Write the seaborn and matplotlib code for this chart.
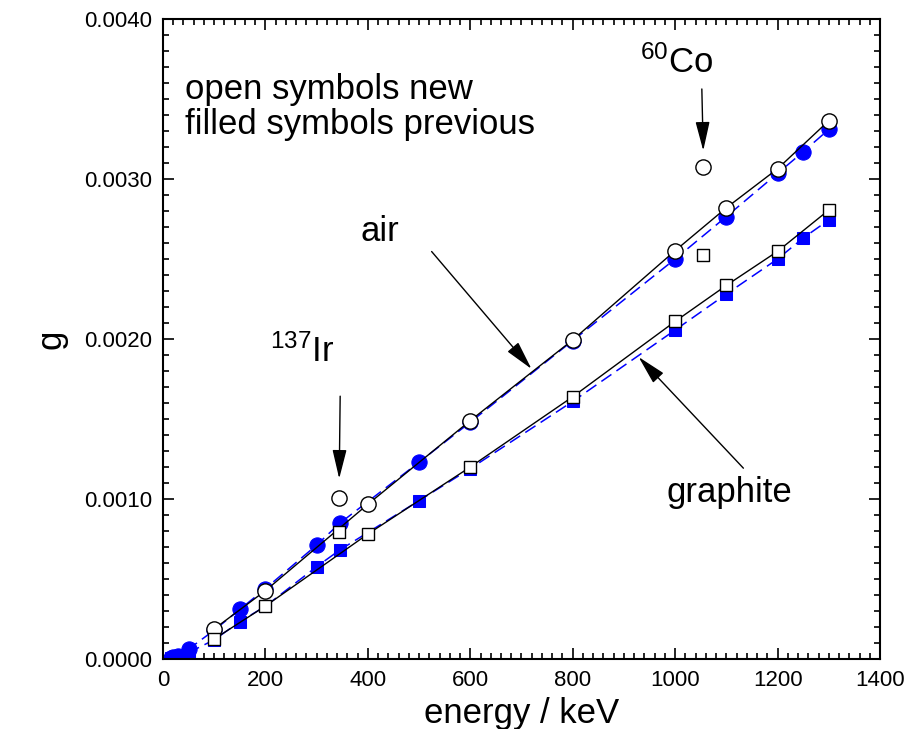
import matplotlib
matplotlib.use("Agg")
import matplotlib.pyplot as plt
from matplotlib.ticker import MultipleLocator
import seaborn as sns
import pandas as pd

# Previous evaluation (filled symbols, dashed blue)
prev_energy = [15, 20, 30, 50, 100, 150, 200, 300, 345, 500, 600, 800, 1000, 1100, 1200, 1250, 1300]
prev_air = [0.000008, 0.000012, 0.00002, 0.000062, 0.00018, 0.00031, 0.00044, 0.000712, 0.000848,
            0.00123, 0.00148, 0.00199, 0.0025, 0.002765, 0.003035, 0.00317, 0.00331]
prev_graphite = [0.000005, 0.000008, 0.000012, 0.00004, 0.00012, 0.000233, 0.00033, 0.000577, 0.000681,
                 0.00099, 0.00119, 0.00161, 0.002056, 0.002281, 0.0025, 0.002631, 0.002744]

# New evaluation (open symbols, solid black)
new_energy = [100, 200, 400, 600, 800, 1000, 1100, 1200, 1300]
new_air = [0.000188, 0.000427, 0.000967, 0.00149, 0.001994, 0.002552, 0.00282, 0.003064, 0.003364]
new_graphite = [0.000125, 0.000331, 0.000781, 0.0012, 0.001639, 0.00211, 0.002335, 0.002548, 0.002806]

# Source spectra points
src_energy = [344, 1055]
src_air = [0.001004, 0.003073]
src_graphite = [0.000796, 0.002523]

sns.set_style("ticks")
plt.rcParams["font.family"] = ["Liberation Sans", "DejaVu Sans"]
plt.rcParams["mathtext.fontset"] = "custom"
plt.rcParams["mathtext.rm"] = "Liberation Sans"
for key in ["text.color", "axes.labelcolor", "xtick.color", "ytick.color", "axes.edgecolor"]:
    plt.rcParams[key] = "black"

fig = plt.figure(figsize=(9.12, 7.29), dpi=100)
ax = fig.add_axes([163 / 912, 70 / 729, 717 / 912, 640 / 729])

prev = pd.DataFrame({"energy": prev_energy, "air": prev_air, "graphite": prev_graphite})
new = pd.DataFrame({"energy": new_energy, "air": new_air, "graphite": new_graphite})
src = pd.DataFrame({"energy": src_energy, "air": src_air, "graphite": src_graphite})

blue = "#0000ff"
for col, mk, ms in [("air", "o", 11), ("graphite", "s", 9)]:
    sns.lineplot(data=prev, x="energy", y=col, ax=ax, color=blue, lw=1.1,
                 dashes=False, linestyle=(0, (8, 4)), marker=mk, markersize=ms,
                 markerfacecolor=blue, markeredgecolor=blue, sort=False, zorder=2)
for col, mk, ms in [("air", "o", 11), ("graphite", "s", 9)]:
    sns.lineplot(data=new, x="energy", y=col, ax=ax, color="black", lw=1.0,
                 marker=mk, markersize=ms, markerfacecolor="white",
                 markeredgecolor="black", markeredgewidth=1.0, sort=False, zorder=3)
sns.scatterplot(data=src, x="energy", y="air", ax=ax, marker="o", s=120,
                facecolor="white", edgecolor="black", linewidth=1.0, zorder=4)
sns.scatterplot(data=src, x="energy", y="graphite", ax=ax, marker="s", s=80,
                facecolor="white", edgecolor="black", linewidth=1.0, zorder=4)

ax.set_xlim(0, 1400)
ax.set_ylim(0, 0.004)
ax.xaxis.set_major_locator(MultipleLocator(200))
ax.xaxis.set_minor_locator(MultipleLocator(20))
ax.yaxis.set_major_locator(MultipleLocator(0.001))
ax.yaxis.set_minor_locator(MultipleLocator(0.0001))
ax.yaxis.set_major_formatter(plt.FuncFormatter(lambda v, p: f"{v:.4f}"))
ax.tick_params(which="both", direction="in", top=True, right=True, colors="black",
               labelsize=16, width=1.2)
ax.tick_params(which="major", length=8, pad=8)
ax.tick_params(which="minor", length=4)
for s in ax.spines.values():
    s.set_visible(True)
    s.set_linewidth(1.5)
    s.set_color("black")

ax.set_xlabel("energy / keV", fontsize=25, labelpad=4)
ax.set_ylabel("g", fontsize=25, labelpad=12)

ax.text(43, 0.00345, "open symbols new\nfilled symbols previous", fontsize=25,
        ha="left", va="center", linespacing=1.05)
ax.text(424, 0.00267, "air", fontsize=25, ha="center", va="center")
ax.text(1105, 0.00104, "graphite", fontsize=25, ha="center", va="center")
ax.text(271, 0.00192, r"$\mathregular{^{137}Ir}$", fontsize=25, ha="center", va="center")
ax.text(1002, 0.00373, r"$\mathregular{^{60}Co}$", fontsize=25, ha="center", va="center")

arrow = dict(arrowstyle="-|>,head_length=0.9,head_width=0.22", color="black", lw=1.0,
             mutation_scale=20)
ax.annotate("", xy=(723, 0.0018), xytext=(521, 0.00256), arrowprops=arrow)
ax.annotate("", xy=(925, 0.0019), xytext=(1137, 0.00118), arrowprops=arrow)
ax.annotate("", xy=(344, 0.00111), xytext=(346, 0.00166), arrowprops=arrow)
ax.annotate("", xy=(1055, 0.00316), xytext=(1052, 0.00358), arrowprops=arrow)

fig.savefig("out.png", dpi=100)
